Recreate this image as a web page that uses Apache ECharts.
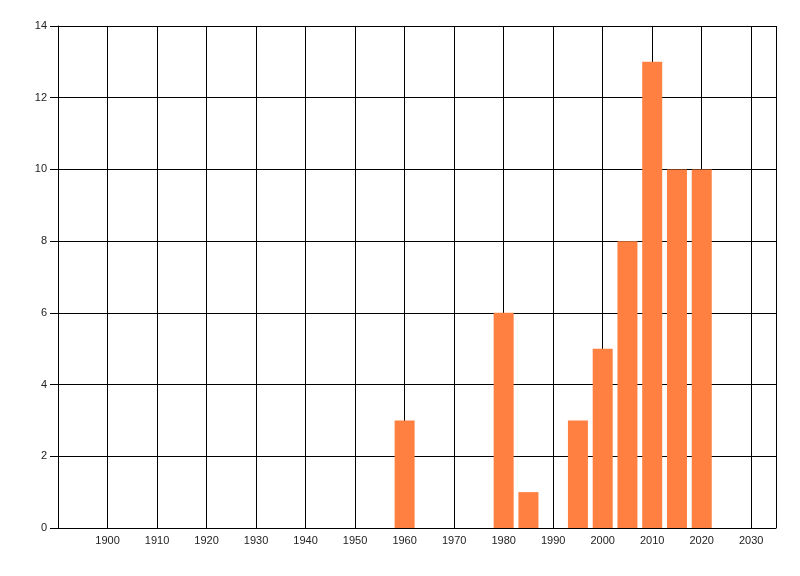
<!DOCTYPE html>
<html>
<head>
<meta charset="utf-8">
<script src="https://cdn.jsdelivr.net/npm/echarts@6/dist/echarts.min.js"></script>
<style>
  html, body { margin: 0; padding: 0; background: #fff; }
  #myChart { width: 800px; height: 576px; }
</style>
</head>
<body>
<div id="myChart"></div>
<script>
// years of the bars and their counts
var years = [1960, 1980, 1985, 1995, 2000, 2005, 2010, 2015, 2020];
var counts = [3, 6, 1, 3, 5, 8, 13, 10, 10];
var xTicks = [1900, 1910, 1920, 1930, 1940, 1950, 1960, 1970, 1980, 1990, 2000, 2010, 2020, 2030];
var yTicks = [0, 2, 4, 6, 8, 10, 12, 14];

var barData = [];
for (var i = 0; i < years.length; i++) {
    barData.push([years[i], counts[i]]);
}

var myChart = echarts.init(document.getElementById('myChart'));
var option = {
    animation: false,
    textStyle: { fontFamily: 'Liberation Sans' },
    grid: {
        top: 26,
        right: 24,
        bottom: 48,
        left: 58
    },
    xAxis: {
        type: 'value',
        min: 1890,
        max: 2035,
        interval: 10,
        axisLine: { show: true, lineStyle: { color: '#000', width: 1 } },
        axisTick: { show: false },
        splitLine: { show: true, lineStyle: { color: '#000', width: 1 } },
        axisLabel: {
            color: '#222',
            fontSize: 11,
            margin: 7,
            showMinLabel: false,
            showMaxLabel: false,
            formatter: function (value) {
                return xTicks.indexOf(value) >= 0 ? String(value) : '';
            }
        }
    },
    yAxis: {
        type: 'value',
        min: 0,
        max: 14,
        interval: 2,
        axisLine: { show: true, lineStyle: { color: '#000', width: 1 } },
        axisTick: { show: true, length: 8, lineStyle: { color: '#000', width: 1 } },
        splitLine: { show: true, lineStyle: { color: '#000', width: 1 } },
        axisLabel: {
            color: '#222',
            fontSize: 11,
            margin: 11,
            formatter: function (value) {
                return yTicks.indexOf(value) >= 0 ? String(value) : '';
            }
        }
    },
    series: [
        {
            type: 'bar',
            data: barData,
            barWidth: 20,
            itemStyle: { color: '#ff8040' }
        }
    ]
};
myChart.setOption(option);
</script>
</body>
</html>
